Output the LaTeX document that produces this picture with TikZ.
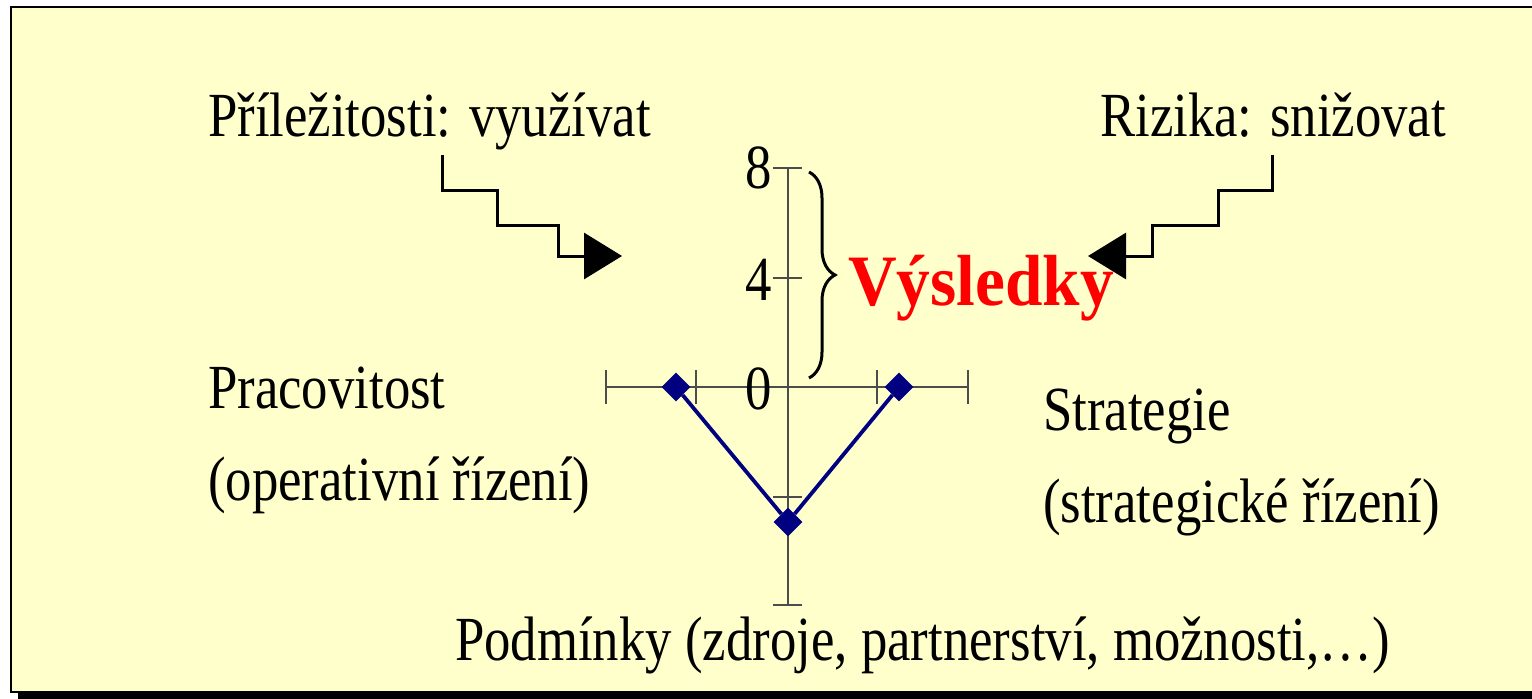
\documentclass[tikz,border=0pt]{standalone}
\usepackage{fontspec}
\setmainfont{Liberation Serif}[FakeStretch=0.84]
\newfontfamily\resultfont{Liberation Serif}[FakeStretch=0.93]
\usetikzlibrary{arrows.meta,shapes.geometric,decorations.pathreplacing}
\definecolor{paper}{HTML}{FFFFCC}
\definecolor{seriesblue}{HTML}{000080}
\tikzset{
  txt/.style={inner sep=0pt, anchor=base west, font=\fontsize{62.8bp}{74bp}\selectfont},
  num/.style={inner sep=0pt, anchor=east, font=\fontsize{62.8bp}{74bp}\selectfont},
  axisline/.style={draw=black!70, line width=1.3bp},
  stair/.style={line width=3bp, -{Triangle[length=38bp, width=46bp]}},
  datapt/.style={diamond, fill=seriesblue, inner sep=0pt, minimum size=29bp},
  series/.style={draw=seriesblue, line width=3.8bp}
}
\begin{document}
\begin{tikzpicture}[x=1bp, y=-1bp]
    \useasboundingbox (0,0) rectangle (1532,699);
    \clip (0,0) rectangle (1532,699);
    % slide with shadow
    \fill (18,14) rectangle (1560,710);
    \draw[fill=paper, line width=1.5bp] (11,7) rectangle (1560,692);
    % chart axes
    \draw[axisline] (788,168) -- (788,605);
    \foreach \y in {168,278,497,605}
        \draw[axisline] (773,\y) -- (802,\y);
    \draw[axisline] (606,387) -- (968,387);
    \foreach \x in {606,696,877,968}
        \draw[axisline] (\x,370) -- (\x,404);
    \node[num] (n8) at (772,168) {8};
    \node[num] (n4) at (772,280) {4};
    \node[num] (n0) at (772,389) {0};
    % data
    \node[datapt] (work) at (676,387) {};
    \node[datapt] (cond) at (788,522) {};
    \node[datapt] (strat) at (899,387) {};
    \draw[series] (work) -- (cond) -- (strat);
    % brace and result
    \draw[line width=3bp, decorate, decoration={brace, amplitude=26bp}] (809,172) -- (809,378);
    \node[inner sep=0pt, anchor=base west, text=red, font=\resultfont\bfseries\fontsize{72.4bp}{85bp}\selectfont] (result) at (848,305) {Výsledky};
    % opportunities and risks
    \node[txt] (opp) at (208,137) {Příležitosti: využívat};
    \node[txt] (risk) at (1100,137) {Rizika: snižovat};
    \coordinate (oppStart) at (442,155);
    \coordinate (oppTip) at (622,256);
    \coordinate (riskStart) at (1272,155);
    \coordinate (riskTip) at (1088,256);
    \draw[stair] (oppStart) |- (497,190) |- (558,225) |- (oppTip);
    \draw[stair] (riskStart) |- (1218,190) |- (1152,225) |- (riskTip);
    % axis captions
    \node[txt] (work1) at (208,408) {Pracovitost};
    \node[txt] (work2) at (208,500) {(operativní řízení)};
    \node[txt] (strat1) at (1043,430) {Strategie};
    \node[txt] (strat2) at (1043,522) {(strategické řízení)};
    \node[txt] (cond1) at (455,660) {Podmínky (zdroje, partnerství, možnosti,…)};
\end{tikzpicture}
\end{document}
